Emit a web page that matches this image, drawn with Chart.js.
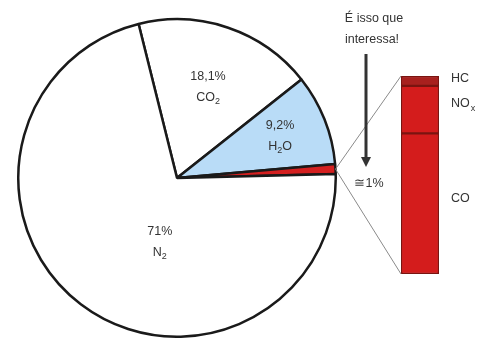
<!DOCTYPE html>
<html>
<head>
<meta charset="utf-8">
<script src="https://cdn.jsdelivr.net/npm/chart.js@4/dist/chart.umd.min.js"></script>
<style>
  body { margin: 0; background: #fff; }
  #wrap { position: relative; width: 489px; height: 338px; }
  #pie { position: absolute; left: 0; top: 0; }
  #barra { position: absolute; left: 330px; top: 0; }
</style>
</head>
<body>
<div id="wrap">
  <canvas id="pie" width="489" height="338"></canvas>
  <canvas id="barra" width="159" height="338"></canvas>
</div>
<script>
// composicao do gas de escape (pizza)
const gases = ["CO2", "H2O", "poluentes", "N2"];
const gas_pct = [18.1, 9.2, 1, 71];
const gas_txt = [["18,1%", "CO", "2"], ["9,2%", "H", "2", "O"], null, ["71%", "N", "2"]];

// poluentes (barra empilhada)
const poluentes = ["CO", "NOx", "HC"];
const pol_pct = [71, 24, 5];

const fonte = "12.5px 'Liberation Sans', Arial, sans-serif";
const fonte_sub = "9px 'Liberation Sans', Arial, sans-serif";
const cor_txt = "#333";

// posicao dos rotulos na pizza: [graus a partir do topo, fracao do raio]
const pos_rotulo = [[19, 0.6], [68, 0.7], null, [195, 0.42]];

function textoSub(ctx, x, y, partes) {
  // partes: base, sub, resto -> escreve centralizado em x
  ctx.font = fonte;
  const w1 = ctx.measureText(partes[0]).width;
  ctx.font = fonte_sub;
  const w2 = partes[1] ? ctx.measureText(partes[1]).width : 0;
  ctx.font = fonte;
  const w3 = partes[2] ? ctx.measureText(partes[2]).width : 0;
  let x0 = x - (w1 + w2 + w3) / 2;
  ctx.textAlign = "left";
  ctx.textBaseline = "middle";
  ctx.fillText(partes[0], x0, y);
  if (partes[1]) {
    ctx.font = fonte_sub;
    ctx.fillText(partes[1], x0 + w1, y + 4);
  }
  if (partes[2]) {
    ctx.font = fonte;
    ctx.fillText(partes[2], x0 + w1 + w2, y);
  }
}

const rotulosPizza = {
  id: "rotulosPizza",
  afterDraw(chart) {
    const ctx = chart.ctx;
    const arcs = chart.getDatasetMeta(0).data;
    ctx.save();
    ctx.fillStyle = cor_txt;
    arcs.forEach((arc, i) => {
      if (!gas_txt[i]) return;
      const p = pos_rotulo[i];
      const a = (p[0] - 90) * Math.PI / 180;
      const x = arc.x + Math.cos(a) * arc.outerRadius * p[1];
      const y = arc.y + Math.sin(a) * arc.outerRadius * p[1];
      ctx.font = fonte;
      ctx.textAlign = "center";
      ctx.textBaseline = "middle";
      ctx.fillText(gas_txt[i][0], x, y - 11);
      textoSub(ctx, x, y + 10, gas_txt[i].slice(1));
    });
    ctx.restore();
  }
};

const pizza = new Chart(document.querySelector("#pie"), {
  type: "pie",
  data: {
    labels: gases,
    datasets: [{
      data: gas_pct,
      backgroundColor: ["#ffffff", "#b9dcf7", "#d42020", "#ffffff"],
      borderColor: "#1a1a1a",
      borderWidth: 2.5
    }]
  },
  options: {
    responsive: false,
    animation: false,
    rotation: -14,
    layout: { padding: { left: 17, right: 152, top: 18, bottom: 0 } },
    plugins: { legend: { display: false }, tooltip: { enabled: false } }
  },
  plugins: [rotulosPizza]
});

const OFFSET_X = 330;

const anotacoes = {
  id: "anotacoes",
  afterDraw(chart) {
    const ctx = chart.ctx;
    const meta0 = chart.getDatasetMeta(0).data[0];
    const metaTopo = chart.getDatasetMeta(2).data[0];
    const esq = meta0.x - meta0.width / 2;
    const baixo = meta0.base;
    const topo = metaTopo.y;

    // ponto da fatia de poluentes na borda da pizza
    const arc = pizza.getDatasetMeta(0).data[2];
    const meio = (arc.startAngle + arc.endAngle) / 2;
    const px = arc.x + Math.cos(meio) * arc.outerRadius - OFFSET_X;
    const py = arc.y + Math.sin(meio) * arc.outerRadius;

    ctx.save();
    ctx.strokeStyle = "#8a8a8a";
    ctx.lineWidth = 1;
    ctx.beginPath();
    ctx.moveTo(px, py);
    ctx.lineTo(esq, topo);
    ctx.moveTo(px, py);
    ctx.lineTo(esq, baixo);
    ctx.stroke();

    // seta
    ctx.strokeStyle = "#333";
    ctx.fillStyle = "#333";
    ctx.lineWidth = 3;
    ctx.beginPath();
    ctx.moveTo(36, 54);
    ctx.lineTo(36, 158);
    ctx.stroke();
    ctx.beginPath();
    ctx.moveTo(31, 157);
    ctx.lineTo(41, 157);
    ctx.lineTo(36, 167);
    ctx.closePath();
    ctx.fill();

    ctx.fillStyle = cor_txt;
    ctx.font = fonte;
    ctx.textAlign = "center";
    ctx.textBaseline = "middle";
    ctx.fillText("É isso que", 44, 19);
    ctx.fillText("interessa!", 42, 40);
    ctx.fillText("≅1%", 39, 184);

    // rotulos da barra
    const xr = meta0.x + meta0.width / 2 + 12;
    const ajustes = [-5, -6, -2];
    chart.data.datasets.forEach((ds, i) => {
      const el = chart.getDatasetMeta(i).data[0];
      const cy = (el.y + el.base) / 2 + ajustes[i];
      ctx.textAlign = "left";
      if (ds.label === "NOx") {
        ctx.font = fonte;
        ctx.fillText("NO", xr, cy);
        const w = ctx.measureText("NO").width;
        ctx.font = fonte_sub;
        ctx.fillText("x", xr + w + 1, cy + 5);
      } else {
        ctx.font = fonte;
        ctx.fillText(ds.label, xr, cy);
      }
    });
    ctx.restore();
  }
};

new Chart(document.querySelector("#barra"), {
  type: "bar",
  data: {
    labels: ["poluentes"],
    datasets: [
      { label: poluentes[0], data: [pol_pct[0]], backgroundColor: "#d41c1c" },
      { label: poluentes[1], data: [pol_pct[1]], backgroundColor: "#d41c1c" },
      { label: poluentes[2], data: [pol_pct[2]], backgroundColor: "#a8201e" }
    ].map(d => Object.assign(d, {
      borderColor: "#7a1410",
      borderWidth: 1.5,
      borderSkipped: false,
      barPercentage: 1,
      categoryPercentage: 1
    }))
  },
  options: {
    responsive: false,
    animation: false,
    layout: { padding: { left: 71, right: 50, top: 76, bottom: 64 } },
    scales: {
      x: { stacked: true, display: false },
      y: { stacked: true, display: false, min: 0, max: 100 }
    },
    plugins: { legend: { display: false }, tooltip: { enabled: false } }
  },
  plugins: [anotacoes]
});
</script>
</body>
</html>
